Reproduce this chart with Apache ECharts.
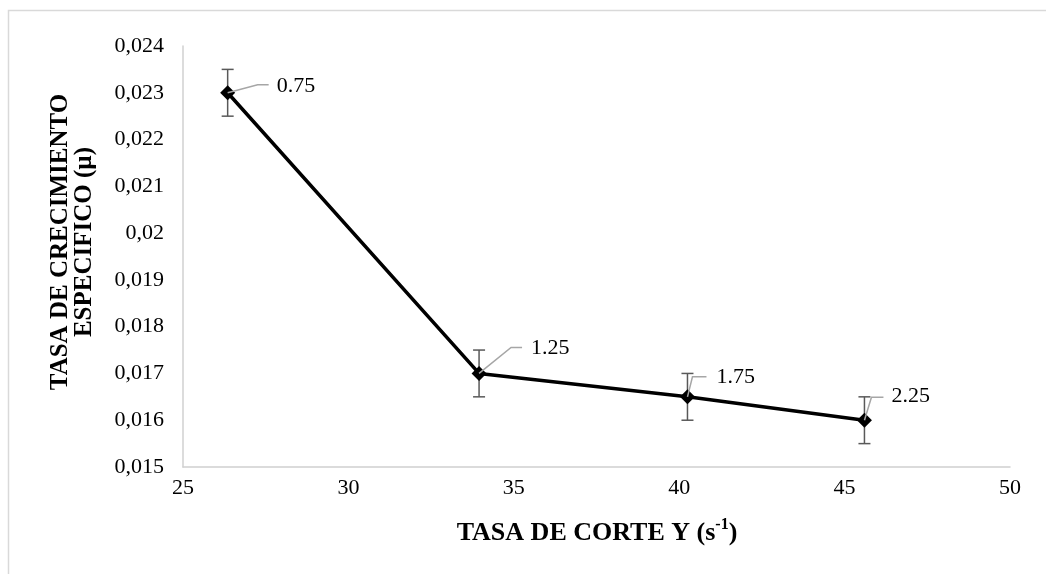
<!DOCTYPE html>
<html><head><meta charset="utf-8">
<script src="https://cdn.jsdelivr.net/npm/echarts@6/dist/echarts.min.js"></script>
<style>html,body{margin:0;padding:0;background:#fff}#c{width:1046px;height:574px}</style>
</head><body><div id="c"></div>
<script>
// ---- data ----
const shearRate = [26.35, 33.95, 40.25, 45.6];
const growthRate = [0.0230, 0.0170, 0.0165, 0.0160];
const errorAmt = [0.0005, 0.0005, 0.0005, 0.0005];
const pointLabels = ['0.75', '1.25', '1.75', '2.25'];
const xTitleMain = 'TASA DE CORTE Y (s';
const xTitleSup = '-1';
const xTitleEnd = ')';
const yTitle1 = 'TASA DE CRECIMIENTO';
const yTitle2 = 'ESPECIFICO (µ)';

// ---- label leader offsets (styling, px) ----
const leader = [
  {bx: 30, by: -8, h: 11, tx: 49, ty: -7},
  {bx: 32, by: -26, h: 11, tx: 52, ty: -25},
  {bx: 5, by: -20, h: 14, tx: 29, ty: -20},
  {bx: 7, by: -23, h: 12, tx: 27, ty: -24}
];

const font = '"Liberation Serif", "Times New Roman", serif';
const xTitleFont = 'bold 26px ' + font;
const yTitleFont = 'bold 25px ' + font;
const supFont = 'bold 16px ' + font;

// measure x title pieces for superscript placement
const mctx = document.createElement('canvas').getContext('2d');
mctx.font = xTitleFont; const w1 = mctx.measureText(xTitleMain).width; const w3 = mctx.measureText(xTitleEnd).width;
mctx.font = supFont; const w2 = mctx.measureText(xTitleSup).width;
const xtCx = 597, xtCy = 533;
const xtLeft = xtCx - (w1 + w2 + w3) / 2;

const chart = echarts.init(document.getElementById('c'));
const lineData = shearRate.map((x, i) => [x, growthRate[i]]);
const errData = shearRate.map((x, i) => [x, growthRate[i] - errorAmt[i], growthRate[i] + errorAmt[i], i]);

chart.setOption({
  animation: false,
  backgroundColor: '#fff',
  grid: {left: 183, right: 36, top: 46, bottom: 107},
  xAxis: {
    type: 'value', min: 25, max: 50, interval: 5,
    axisLine: {show: true, lineStyle: {color: '#d0d0d0', width: 1.5}},
    axisTick: {show: false},
    splitLine: {show: false},
    axisLabel: {color: '#000', fontFamily: font, fontSize: 22, margin: 10}
  },
  yAxis: {
    type: 'value', min: 0.015, max: 0.024, interval: 0.001,
    axisLine: {show: true, lineStyle: {color: '#d0d0d0', width: 1.5}},
    axisTick: {show: false},
    splitLine: {show: false},
    axisLabel: {color: '#000', fontFamily: font, fontSize: 22, margin: 19,
      formatter: v => String(Math.round(v * 1000) / 1000).replace('.', ',')}
  },
  graphic: [
    {type: 'rect', silent: true, shape: {x: 8.5, y: 10.5, width: 1100, height: 700},
      style: {fill: 'none', stroke: '#d9d9d9', lineWidth: 1.5}},
    {type: 'text', x: xtLeft, y: xtCy, style: {text: xTitleMain, font: xTitleFont, fill: '#000',
      textAlign: 'left', textVerticalAlign: 'middle'}},
    {type: 'text', x: xtLeft + w1, y: xtCy - 8, style: {text: xTitleSup, font: supFont, fill: '#000',
      textAlign: 'left', textVerticalAlign: 'middle'}},
    {type: 'text', x: xtLeft + w1 + w2, y: xtCy, style: {text: xTitleEnd, font: xTitleFont, fill: '#000',
      textAlign: 'left', textVerticalAlign: 'middle'}},
    {type: 'text', x: 61, y: 242, rotation: Math.PI / 2, style: {text: yTitle1, font: yTitleFont, fill: '#000',
      textAlign: 'center', textVerticalAlign: 'middle'}},
    {type: 'text', x: 85, y: 242, rotation: Math.PI / 2, style: {text: yTitle2, font: yTitleFont, fill: '#000',
      textAlign: 'center', textVerticalAlign: 'middle'}}
  ],
  series: [
    {
      type: 'line', data: lineData, symbol: 'diamond', symbolSize: 15,
      lineStyle: {color: '#000', width: 3.5},
      itemStyle: {color: '#000'},
      z: 3
    },
    {
      type: 'custom', data: errData, z: 2,
      renderItem: (params, api) => {
        const x = api.value(0);
        const lo = api.coord([x, api.value(1)]);
        const hi = api.coord([x, api.value(2)]);
        const cap = 6;
        const st = {stroke: '#595959', lineWidth: 1.5};
        return {type: 'group', children: [
          {type: 'line', shape: {x1: lo[0], y1: lo[1], x2: hi[0], y2: hi[1]}, style: st},
          {type: 'line', shape: {x1: lo[0] - cap, y1: lo[1], x2: lo[0] + cap, y2: lo[1]}, style: st},
          {type: 'line', shape: {x1: hi[0] - cap, y1: hi[1], x2: hi[0] + cap, y2: hi[1]}, style: st}
        ]};
      }
    },
    {
      type: 'custom', data: lineData.map((d, i) => [d[0], d[1], i]), z: 4,
      renderItem: (params, api) => {
        const i = api.value(2);
        const p = api.coord([api.value(0), api.value(1)]);
        const L = leader[i];
        const st = {stroke: '#a6a6a6', lineWidth: 1.5, fill: 'none'};
        return {type: 'group', children: [
          {type: 'polyline', shape: {points: [[p[0], p[1]], [p[0] + L.bx, p[1] + L.by], [p[0] + L.bx + L.h, p[1] + L.by]]}, style: st},
          {type: 'text', x: p[0] + L.tx, y: p[1] + L.ty, style: {text: pointLabels[i], font: '22px ' + font, fill: '#000',
            textAlign: 'left', textVerticalAlign: 'middle'}}
        ]};
      }
    }
  ]
});
</script></body></html>
